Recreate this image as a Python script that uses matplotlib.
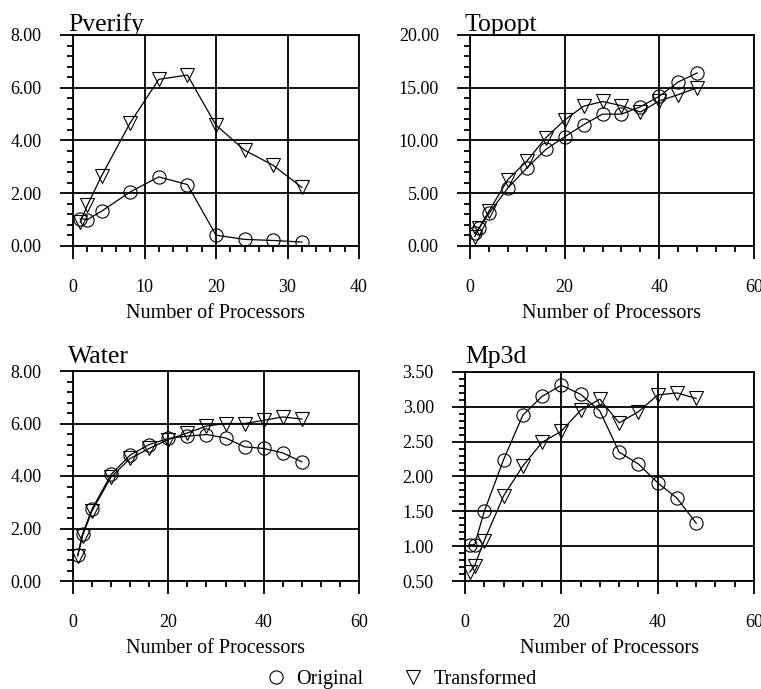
import matplotlib
matplotlib.use("Agg")
import matplotlib.pyplot as plt
from matplotlib.lines import Line2D
from matplotlib.ticker import MultipleLocator, FormatStrFormatter

plt.rcParams['font.family'] = ['Liberation Serif', 'DejaVu Serif']

# ---------------- data ----------------
pv_x = [1, 2, 4, 8, 12, 16, 20, 24, 28, 32]
pv_orig = [1.04, 1.0, 1.32, 2.05, 2.62, 2.33, 0.41, 0.25, 0.21, 0.15]
pv_trans = [0.9, 1.54, 2.66, 4.67, 6.32, 6.48, 4.58, 3.63, 3.06, 2.22]

tp_x = [1, 2, 4, 8, 12, 16, 20, 24, 28, 32, 36, 40, 44, 48]
tp_orig = [1.2, 1.75, 3.1, 5.5, 7.4, 9.15, 10.35, 11.5, 12.5, 12.5, 13.2, 14.2, 15.55, 16.4]
tp_trans = [0.9, 1.75, 3.3, 6.3, 8.05, 10.25, 11.95, 13.25, 13.7, 13.3, 12.7, 13.75, 14.35, 15.0]

wa_x = [1, 2, 4, 8, 12, 16, 20, 24, 28, 32, 36, 40, 44, 48]
wa_orig = [1.0, 1.79, 2.74, 4.06, 4.8, 5.2, 5.43, 5.52, 5.58, 5.45, 5.11, 5.05, 4.88, 4.54]
wa_trans = [0.95, 1.72, 2.68, 3.96, 4.67, 5.05, 5.39, 5.64, 5.9, 6.0, 6.0, 6.12, 6.25, 6.17]

mp_x = [1, 2, 4, 8, 12, 16, 20, 24, 28, 32, 36, 40, 44, 48]
mp_orig = [1.02, 1.02, 1.5, 2.24, 2.88, 3.15, 3.31, 3.18, 2.94, 2.35, 2.18, 1.91, 1.69, 1.33]
mp_trans = [0.63, 0.72, 1.08, 1.72, 2.15, 2.49, 2.65, 2.95, 3.11, 2.77, 2.93, 3.17, 3.2, 3.12]

titles = ["Pverify", "Topopt", "Water", "Mp3d"]
xlabel = "Number of Processors"
legend_labels = ["Original", "Transformed"]

W, H = 761, 689
fig = plt.figure(figsize=(W / 100, H / 100), dpi=100)

def fx(px):
    return px / W

def fy(py):
    return 1 - py / H

# axes boxes in pixels: left, right, top, bottom
boxes = [(73, 359, 35, 246), (470, 754, 35, 246), (73, 359, 371, 581), (465, 754, 372, 581)]
title_pos = [(68, 31), (465, 31), (68, 363), (465, 363)]
xlims = [(0, 40), (0, 60), (0, 60), (0, 60)]
ylims = [(0, 8), (0, 20), (0, 8), (0.5, 3.5)]
xmaj = [10, 20, 20, 20]
xmin = [2, 4, 4, 4]
ymaj = [2, 5, 2, 0.5]
ymin = [0.4, 1, 0.4, 0.1]
series = [(pv_x, pv_orig, pv_trans), (tp_x, tp_orig, tp_trans),
          (wa_x, wa_orig, wa_trans), (mp_x, mp_orig, mp_trans)]

lw_frame = 1.3
ms_o = 9.5
ms_v = 10

for i in range(4):
    l, r, t, b = boxes[i]
    ax = fig.add_axes([fx(l), fy(b), (r - l) / W, (b - t) / H])
    x, yo, yt = series[i]
    ax.plot(x, yo, color='black', lw=0.9, marker='o', ms=ms_o, mfc='none', mec='black', mew=0.8, zorder=3)
    ax.plot(x, yt, color='black', lw=0.9, marker='v', ms=ms_v, mfc='none', mec='black', mew=0.8, zorder=3)
    ax.set_xlim(*xlims[i])
    ax.set_ylim(*ylims[i])
    ax.xaxis.set_major_locator(MultipleLocator(xmaj[i]))
    ax.xaxis.set_minor_locator(MultipleLocator(xmin[i]))
    ax.yaxis.set_major_locator(MultipleLocator(ymaj[i]))
    ax.yaxis.set_minor_locator(MultipleLocator(ymin[i]))
    ax.yaxis.set_major_formatter(FormatStrFormatter('%.2f'))
    ax.grid(True, which='major', color='black', lw=lw_frame)
    ax.set_axisbelow(True)
    for s in ax.spines.values():
        s.set_linewidth(lw_frame)
    ax.tick_params(which='major', direction='out', length=9.5, width=lw_frame, labelsize=13)
    ax.tick_params(axis='y', which='major', pad=13)
    ax.tick_params(axis='x', which='major', pad=14)
    ax.tick_params(which='minor', direction='out', length=4, width=lw_frame)
    ax.set_xlabel(xlabel, fontsize=14.5, labelpad=6)
    tx, ty = title_pos[i]
    fig.text(fx(tx), fy(ty), titles[i], fontsize=18.5, ha='left', va='baseline')

handles = [Line2D([], [], ls='none', marker='o', ms=ms_o, mfc='none', mec='black', mew=0.8),
           Line2D([], [], ls='none', marker='v', ms=ms_v, mfc='none', mec='black', mew=0.8)]
fig.legend(handles, legend_labels, loc='center', bbox_to_anchor=(fx(401), fy(679)),
           ncol=2, frameon=False, fontsize=14.5, handlelength=1.0, handletextpad=0.5,
           columnspacing=2.0, borderpad=0)

fig.savefig("out.png", dpi=100)
